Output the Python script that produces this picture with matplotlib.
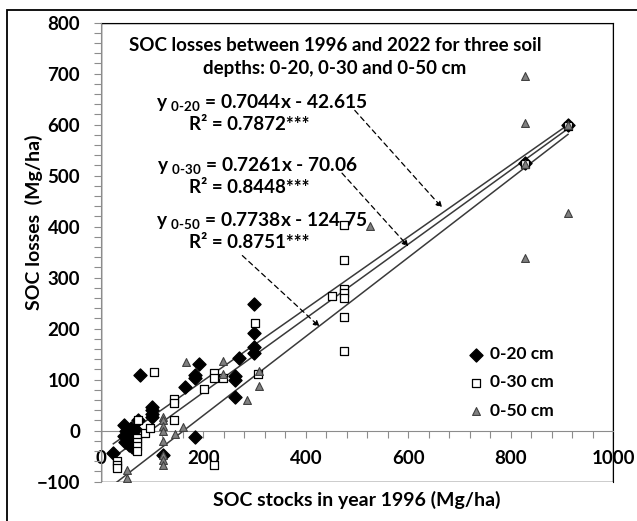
import numpy as np
import matplotlib
matplotlib.use("Agg")
import matplotlib.pyplot as plt
from matplotlib.patches import Rectangle
from matplotlib.ticker import MultipleLocator

plt.rcParams["font.family"] = ["Lato", "DejaVu Sans"]
plt.rcParams["font.weight"] = "bold"
plt.rcParams["axes.labelweight"] = "bold"
plt.rcParams["mathtext.fontset"] = "custom"
plt.rcParams["mathtext.rm"] = "Lato:bold"
plt.rcParams["mathtext.it"] = "Lato:bold"
plt.rcParams["mathtext.bf"] = "Lato:bold"

# ---- data (SOC stock 1996 vs SOC loss, Mg/ha) ----
x_020 = [24, 45, 48, 50, 52, 47, 55, 60, 58, 63, 66, 44, 73, 76,
         99, 99, 99, 99, 121, 164, 184, 184, 192, 184, 262, 262, 262,
         270, 298, 298, 299, 299, 828, 912]
y_020 = [-44, 12, 0, -8, -15, -22, -28, -32, 5, -3, 3, -10, 21, 109,
         47, 40, 33, 26, -48, 86, 109, 103, 130, -13, 107, 99, 66,
         143, 249, 192, 164, 153, 525, 600]

x_030 = [31, 31, 31, 72, 70, 70, 70, 70, 86, 96, 104, 143, 143, 143,
         202, 220, 220, 220, 238, 306, 301, 452, 474, 474, 474, 474,
         474, 474, 474, 828, 912]
y_030 = [-60, -67, -73, 20, -14, -22, -30, -40, -4, 5, 115, 63, 55, 21,
         81, 113, 103, -67, 103, 112, 211, 265, 403, 334, 278, 270,
         260, 223, 157, 522, 598]

x_050 = [51, 51, 121, 121, 121, 121, 121, 121, 121, 121, 145, 160,
         166, 239, 239, 285, 308, 308, 525, 828, 828, 828, 828, 912, 912]
y_050 = [-77, -93, 27, 21, 9, 0, -21, -48, -57, -67, -6, 7,
         134, 136, 112, 61, 117, 87, 402, 695, 604, 523, 339, 600, 427]

# linear trendlines as printed on the chart
slopes = [0.7044, 0.7261, 0.7738]
intercepts = [-42.615, -70.06, -124.75]
r2_vals = ["0.7872", "0.8448", "0.8751"]
depths = ["0-20", "0-30", "0-50"]
trend_x = [24, 912]

fig = plt.figure(figsize=(6.37, 5.21), dpi=100)
ax = fig.add_axes([0.1586, 0.0755, 0.8038, 0.881])

# outer chart border (cut by the image edge right/bottom)
fig.patches.append(Rectangle((0.011, -0.2), 1.2, 1.181, transform=fig.transFigure,
                             fill=False, ec="black", lw=1.3))

for m, b in zip(slopes, intercepts):
    xs = np.array(trend_x, dtype=float)
    ax.plot(xs, m * xs + b, color="#3a3a3a", lw=1.1, zorder=2)

ax.scatter(x_020, y_020, marker="D", s=44, c="black", zorder=3, label="0-20 cm")
ax.scatter(x_030, y_030, marker="s", s=40, facecolors="white", edgecolors="black",
           lw=0.9, zorder=4, label="0-30 cm")
ax.scatter(x_050, y_050, marker="^", s=32, c="#808080", edgecolors="#404040",
           lw=0.8, zorder=5, label="0-50 cm")

ax.set_xlim(0, 1000)
ax.set_ylim(-100, 800)
ax.xaxis.set_major_locator(MultipleLocator(200))
ax.xaxis.set_minor_locator(MultipleLocator(40))
ax.yaxis.set_major_locator(MultipleLocator(100))
ax.yaxis.set_minor_locator(MultipleLocator(20))

ax.spines["bottom"].set_position(("data", 0))
ax.spines["bottom"].set_color("#8c8c8c")
ax.spines["left"].set_color("#8c8c8c")
ax.spines["top"].set_color("black")
ax.spines["right"].set_color("black")
ax.add_patch(Rectangle((0, 0), 1, 1, transform=ax.transAxes, fill=False,
                       ec="black", lw=1.0, zorder=1))
ax.spines["left"].set_zorder(6)

ax.tick_params(axis="x", which="both", direction="out", length=5, width=0.8,
               color="#8c8c8c", labelsize=13.5, pad=9)
ax.tick_params(axis="y", which="both", direction="out", length=5, width=0.8,
               color="#8c8c8c", labelsize=13.5, pad=10)
for lab in ax.get_xticklabels() + ax.get_yticklabels():
    lab.set_fontweight("bold")

ax.set_xlabel("SOC stocks in year 1996 (Mg/ha)", fontsize=14, fontweight="bold")
ax.set_ylabel("SOC losses  (Mg/ha)", fontsize=14, fontweight="bold")
ax.xaxis.set_label_coords(0.5, -0.02)
ax.yaxis.set_label_coords(-0.113, 0.565)

ax.text(457, 733, "SOC losses between 1996 and 2022 for three soil\ndepths: 0-20, 0-30 and 0-50 cm",
        ha="center", va="center", fontsize=13.5, linespacing=1.4)

eq_xy = [(107, 643), (110, 519), (107, 412)]
for (ex, ey), d, m, b, r2 in zip(eq_xy, depths, slopes, intercepts, r2_vals):
    ax.text(ex, ey, "y $_{\\text{%s}}$ = %sx - %s" % (d, m, abs(b)),
            ha="left", va="center", fontsize=13.8)
    ax.text(289, ey - 43, "R\u00b2 = %s***" % r2, ha="center", va="center",
            fontsize=13.5)

# dashed pointers from each equation to its line
arrows = [((492, 632), (670, 433)), ((467, 509), (604, 357)), ((272, 347), (431, 200))]
for (sx, sy), (tx, ty) in arrows:
    ax.annotate("", xy=(tx, ty), xytext=(sx, sy),
                arrowprops=dict(arrowstyle="-|>", ls=(0, (4, 3)), lw=0.9,
                                color="black", mutation_scale=9))

ax.legend(loc="upper left", bbox_to_anchor=(0.705, 0.31), frameon=False,
          fontsize=12.5, handlelength=0.8, handletextpad=0.4, labelspacing=0.7,
          borderaxespad=0, scatterpoints=1)

fig.savefig("out.png", dpi=100)
